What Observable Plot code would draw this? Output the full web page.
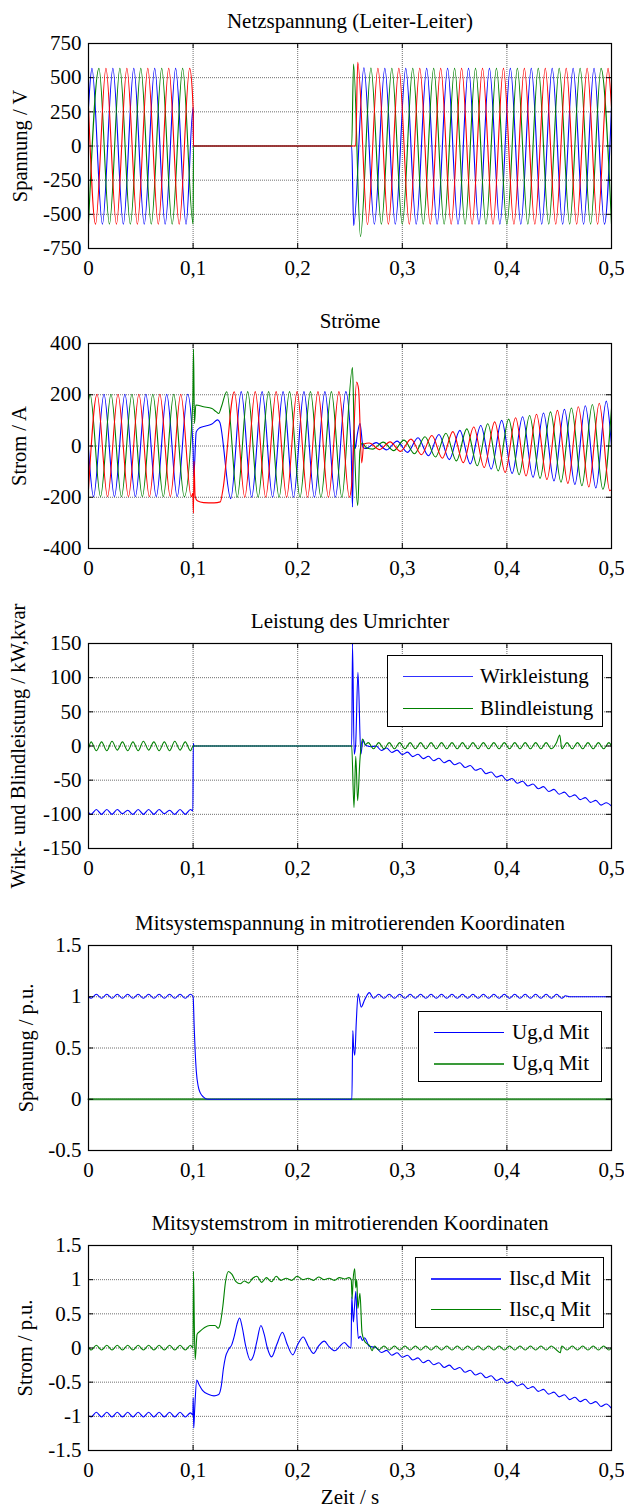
<!DOCTYPE html>
<html><head><meta charset="utf-8">
<script src="https://cdn.jsdelivr.net/npm/d3@7"></script>
<script src="https://cdn.jsdelivr.net/npm/@observablehq/plot@0.6"></script>
<style>
body{margin:0;background:#fff;font-family:"Liberation Serif","Times New Roman",serif;}
svg text{font-family:"Liberation Serif","Times New Roman",serif !important;font-variant:normal !important;}
.panel{position:relative;width:624px;}
.legend{position:absolute;border:1px solid #000;background:#fff;box-sizing:border-box;font-size:21px;color:#000;}
.legend .sw{position:absolute;height:0;}
.legend .lb{position:absolute;line-height:22px;white-space:nowrap;}
</style></head><body><div id="chart"></div><script>
// ---- time axis (ms) ----
const xTicks = [0, 100, 200, 300, 400, 500];

// ---- Panel 1: Netzspannung (Leiter-Leiter), [ms, V] extrema ----
const p1Blue = [[0,283],[3.3,568],[13.3,-572],[23.3,568],[33.3,-572],[43.3,568],[53.3,-572],[63.3,568],[73.3,-572],[83.3,568],[93.3,-572],[100,283],[100.4,0],[251.6,0],[253.5,-582],[263.3,572],[273.3,-572],[283.3,568],[293.3,-572],[303.3,568],[313.3,-572],[323.3,568],[333.3,-572],[343.3,568],[353.3,-572],[363.3,568],[373.3,-572],[383.3,568],[393.3,-572],[403.3,568],[413.3,-572],[423.3,568],[433.3,-572],[443.3,568],[453.3,-572],[463.3,568],[473.3,-572],[483.3,568],[493.3,-572],[500,283]];
const p1Green = [[0,-572],[10,568],[20,-572],[30,568],[40,-572],[50,568],[60,-572],[70,568],[80,-572],[90,568],[100,-572],[100.4,0],[251.6,0],[253.4,600],[260,-662],[270,570],[280,-572],[290,568],[300,-572],[310,568],[320,-572],[330,568],[340,-572],[350,568],[360,-572],[370,568],[380,-572],[390,568],[400,-572],[410,568],[420,-572],[430,568],[440,-572],[450,568],[460,-572],[470,568],[480,-572],[490,568],[500,-572]];
const p1Red = [[0,283],[6.7,-572],[16.7,568],[26.7,-572],[36.7,568],[46.7,-572],[56.7,568],[66.7,-572],[76.7,568],[86.7,-572],[96.7,568],[100,283],[100.4,0],[255.4,0],[257.4,612],[266.7,-574],[276.7,568],[286.7,-572],[296.7,568],[306.7,-572],[316.7,568],[326.7,-572],[336.7,568],[346.7,-572],[356.7,568],[366.7,-572],[376.7,568],[386.7,-572],[396.7,568],[406.7,-572],[416.7,568],[426.7,-572],[436.7,568],[446.7,-572],[456.7,568],[466.7,-572],[476.7,568],[486.7,-572],[496.7,568],[500,283]];

// ---- Panel 2: Ströme, [ms, A] ----
const p2Green = [[0,178],[1.5,202],[11.5,-198],[21.5,202],[31.5,-198],[41.5,202],[51.5,-198],[61.5,202],[71.5,-198],[81.5,202],[91.5,-198],[99.7,172],[100.4,378],[101.3,88],[102.6,160],[110,153],[118,146],[122,134],[124.5,127],[127,152],[132.2,212],[142.2,-200],[152.2,212],[162.2,-200],[172.2,212],[182.2,-200],[192.2,212],[202.2,-200],[212.2,212],[222.2,-200],[232.2,212],[242.2,-200],[252.4,306],[254,40],[257.4,-232],[259.5,-20],[261.7,12],[266,-8],[271.7,-12],[281.7,15],[291.7,-18],[301.7,23],[311.7,-30],[321.7,36],[331.7,-43],[341.7,50],[351.7,-58],[361.7,67],[371.7,-77],[381.7,87],[391.7,-97],[401.7,105],[411.7,-112],[421.7,119],[431.7,-126],[441.7,133],[451.7,-141],[461.7,148],[471.7,-155],[481.7,162],[491.7,-169],[500,146]];
const p2Red = [[0,-169],[8.2,202],[18.2,-198],[28.2,202],[38.2,-198],[48.2,202],[58.2,-198],[68.2,202],[78.2,-198],[88.2,202],[98.2,-198],[99.8,-185],[100.3,-262],[100.9,-60],[101.9,-196],[104,-214],[110,-221],[120,-222],[126,-218],[128.5,-170],[139.4,212],[149.4,-200],[159.4,212],[169.4,-200],[179.4,212],[189.4,-200],[199.4,212],[209.4,-200],[219.4,212],[229.4,-200],[239.4,212],[249.4,-200],[251.6,-150],[256.3,250],[258.2,222],[261.2,-66],[263.2,8],[268.3,12],[278.3,-14],[288.3,16],[298.3,-21],[308.3,27],[318.3,-34],[328.3,41],[338.3,-48],[348.3,56],[358.3,-65],[368.3,74],[378.3,-84],[388.3,94],[398.3,-103],[408.3,110],[418.3,-117],[428.3,124],[438.3,-131],[448.3,139],[458.3,-146],[468.3,153],[478.3,-160],[488.3,167],[498.3,-174],[500,-170]];
const p2Blue = [[0,-13],[4.8,-198],[14.8,202],[24.8,-198],[34.8,202],[44.8,-198],[54.8,202],[64.8,-198],[74.8,202],[84.8,-198],[94.8,202],[100,-12],[100.6,-120],[103,55],[106,70],[112,78],[118,86],[123.5,102],[125.5,93],[136,-206],[146,212],[156,-200],[166,212],[176,-200],[186,212],[196,-200],[206,212],[216,-200],[226,212],[236,-200],[246,212],[251,0],[252.4,-238],[253.6,62],[255,-10],[257,45],[259.6,88],[262.5,-5],[265,-10],[275,13],[285,-15],[295,19],[305,-25],[315,32],[325,-38],[335,45],[345,-53],[355,61],[365,-70],[375,80],[385,-90],[395,100],[405,-107],[415,114],[425,-122],[435,129],[445,-136],[455,143],[465,-150],[475,157],[485,-164],[495,175],[500,0]];

// ---- Panel 3: Leistung des Umrichter, [ms, kW / kvar] ----
const p3Wirk = [[0,-97],[2.5,-100],[7.5,-93],[12.5,-100],[17.5,-93],[22.5,-100],[27.5,-93],[32.5,-99],[37.5,-94],[42.5,-100],[47.5,-93],[52.5,-100],[57.5,-93],[62.5,-100],[67.5,-93],[72.5,-99],[77.5,-94],[82.5,-100],[87.5,-93],[92.5,-100],[97.5,-93],[99.8,-95],[100.2,4],[100.8,0],[251.6,0],[252.4,150],[254,-12],[255.4,2],[257.6,108],[260.4,-12],[262.4,9],[265,1],[270,-1],[275,0],[280,-6.5],[285,-3],[290,-9.5],[295,-6],[300,-12.5],[305,-9],[310,-15.5],[315,-12],[320,-18.5],[325,-15],[330,-21.5],[335,-18],[340,-24.5],[345,-21],[350,-27.5],[355,-24.5],[360,-31.5],[365,-28.5],[370,-35.5],[375,-33],[380,-40.5],[385,-38],[390,-45.5],[395,-43],[400,-50.5],[405,-47.5],[410,-54.5],[415,-51.5],[420,-58.5],[425,-55.5],[430,-62.5],[435,-59.5],[440,-66.5],[445,-63.5],[450,-70.5],[455,-67.5],[460,-74.5],[465,-71.5],[470,-78.5],[475,-75.5],[480,-82.5],[485,-79.5],[490,-86.5],[495,-83],[500,-88]];
const p3Blind = [[0,-4],[2.5,6],[7.5,-7],[12.5,6],[17.5,-7],[22.5,7],[27.5,-6],[32.5,6],[37.5,-7],[42.5,6],[47.5,-7],[52.5,7],[57.5,-6],[62.5,6],[67.5,-7],[72.5,6],[77.5,-7],[82.5,7],[87.5,-6],[92.5,6],[97.5,-7],[100,0],[251.6,0],[253.8,-90],[255.5,-15],[257.3,-80],[259.5,-20],[262,10],[264.5,2],[267.5,5],[272.5,-4],[277.5,5],[282.5,-4],[287.5,5],[292.5,-4],[297.5,5],[302.5,-4],[307.5,5],[312.5,-4],[317.5,5],[322.5,-4],[327.5,5],[332.5,-4],[337.5,5],[342.5,-4],[347.5,5],[352.5,-4],[357.5,5],[362.5,-4],[367.5,5],[372.5,-4],[377.5,5],[382.5,-4],[387.5,5],[392.5,-4],[397.5,5],[402.5,-4],[407.5,5],[412.5,-4],[417.5,5],[422.5,-4],[427.5,5],[432.5,-4],[437.5,5],[442.5,-4],[447.5,5],[450.5,16],[452.5,-4],[457.5,5],[462.5,-4],[467.5,5],[472.5,-4],[477.5,5],[482.5,-4],[487.5,5],[492.5,-4],[497.5,5],[500,0]];

// ---- Panel 4: Mitsystemspannung, [ms, p.u.] ----
const p4Ugd = [[0,1.0],[2.5,0.985],[7.5,1.025],[12.5,0.985],[17.5,1.025],[22.5,0.985],[27.5,1.025],[32.5,0.985],[37.5,1.025],[42.5,0.985],[47.5,1.025],[52.5,0.985],[57.5,1.025],[62.5,0.985],[67.5,1.025],[72.5,0.985],[77.5,1.025],[82.5,0.985],[87.5,1.025],[92.5,0.985],[97.5,1.025],[100,1.0],[101,0.72],[102,0.46],[103,0.28],[105,0.12],[107,0.06],[110,0.02],[114,0],[251.8,0],[252.7,0.67],[253.4,0.52],[254.6,0.43],[256,0.75],[257.8,1.03],[260.7,0.9],[264,0.97],[268.5,1.04],[272.5,0.985],[277.5,1.025],[282.5,0.985],[287.5,1.025],[292.5,0.985],[297.5,1.025],[302.5,0.985],[307.5,1.025],[312.5,0.985],[317.5,1.025],[322.5,0.985],[327.5,1.025],[332.5,0.985],[337.5,1.025],[342.5,0.985],[347.5,1.025],[352.5,0.985],[357.5,1.025],[362.5,0.985],[367.5,1.025],[372.5,0.985],[377.5,1.025],[382.5,0.985],[387.5,1.025],[392.5,0.985],[397.5,1.025],[402.5,0.985],[407.5,1.025],[412.5,0.985],[417.5,1.025],[422.5,0.985],[427.5,1.025],[432.5,0.985],[437.5,1.025],[442.5,0.985],[447.5,1.025],[452.5,0.985],[456,1.01],[460,1.0],[500,1.0]];
const p4Ugq = [[0,0],[500,0]];

// ---- Panel 5: Mitsystemstrom, [ms, p.u.] ----
const p5Ilq = [[0,0.02],[2.5,-0.03],[7.5,0.04],[12.5,-0.03],[17.5,0.04],[22.5,-0.03],[27.5,0.04],[32.5,-0.03],[37.5,0.04],[42.5,-0.03],[47.5,0.04],[52.5,-0.03],[57.5,0.04],[62.5,-0.03],[67.5,0.04],[72.5,-0.03],[77.5,0.04],[82.5,-0.03],[87.5,0.04],[92.5,-0.03],[97.5,0.04],[99.9,0],[100.4,1.12],[101.2,0.3],[102,-0.17],[103.8,0.2],[107,0.25],[111,0.3],[116,0.33],[121,0.33],[124,0.29],[126,0.36],[128.5,0.62],[131,0.97],[133.8,1.12],[137,1.08],[141,0.97],[145,0.94],[149,0.98],[153,0.95],[157,1.02],[161,1.05],[165.5,0.96],[170,1.03],[175,0.97],[179.5,1.05],[184,0.99],[189,1.02],[194,0.99],[199.5,1.05],[205,1.0],[210,1.02],[215,0.99],[220,1.04],[225,1.0],[230,1.02],[235,0.99],[240,1.03],[245,1.01],[249,1.03],[251.2,1.0],[252,0.72],[253,1.0],[254.5,1.16],[255.5,0.88],[256.5,1.0],[257.5,0.58],[259.5,0.8],[261.5,0.22],[264,0.1],[266.5,0.06],[269,0.03],[271,-0.04],[273.5,0.03],[277.5,-0.03],[282.5,0.03],[287.5,-0.03],[292.5,0.03],[297.5,-0.03],[302.5,0.03],[307.5,-0.03],[312.5,0.03],[317.5,-0.03],[322.5,0.03],[327.5,-0.03],[332.5,0.03],[337.5,-0.03],[342.5,0.03],[347.5,-0.03],[352.5,0.03],[357.5,-0.03],[362.5,0.03],[367.5,-0.03],[372.5,0.03],[377.5,-0.03],[382.5,0.03],[387.5,-0.03],[392.5,0.03],[397.5,-0.03],[402.5,0.03],[407.5,-0.03],[412.5,0.03],[417.5,-0.03],[422.5,0.03],[427.5,-0.03],[432.5,0.03],[437.5,-0.03],[442.5,0.03],[447.5,-0.03],[451,-0.07],[452.5,0.03],[457.5,-0.03],[462.5,0.03],[467.5,-0.03],[472.5,0.03],[477.5,-0.03],[482.5,0.03],[487.5,-0.03],[492.5,0.03],[497.5,-0.03],[500,0]];
const p5Ild = [[0,-0.99],[2.5,-1.01],[7.5,-0.94],[12.5,-1.01],[17.5,-0.94],[22.5,-1.01],[27.5,-0.94],[32.5,-1.01],[37.5,-0.94],[42.5,-1.01],[47.5,-0.94],[52.5,-1.01],[57.5,-0.94],[62.5,-1.01],[67.5,-0.94],[72.5,-1.01],[77.5,-0.94],[82.5,-1.01],[87.5,-0.94],[92.5,-1.01],[97.5,-0.95],[99.8,-0.98],[100.1,-0.73],[100.6,-1.17],[101.5,-0.9],[103.5,-0.47],[105.5,-0.53],[109,-0.62],[115,-0.68],[120,-0.7],[124.5,-0.68],[127,-0.55],[129,-0.3],[131,-0.13],[134,-0.02],[137,0.05],[139.5,0.18],[142,0.35],[144.5,0.44],[147,0.3],[150,0.05],[154.8,-0.18],[158,-0.1],[161,0.1],[164.8,0.33],[168,0.2],[171,0],[175,-0.13],[180,0.05],[185.4,0.23],[190,0.05],[195.3,-0.1],[200,0.05],[205.3,0.16],[210,0.03],[215.2,-0.08],[220,0.03],[225.5,0.1],[230,0.02],[235.5,-0.04],[240,0.02],[244.6,0.08],[248,0.03],[251,0.0],[251.7,0.75],[252.5,0.55],[253.3,0.38],[254.3,0.6],[255.6,0.83],[256.6,0.45],[258,0.14],[259.8,0.17],[262,0.11],[264,0.15],[266,0.1],[268,0.03],[270,0.02],[275,0.005],[280,-0.065],[285,-0.035],[290,-0.105],[295,-0.07],[300,-0.135],[305,-0.105],[310,-0.175],[315,-0.145],[320,-0.215],[325,-0.18],[330,-0.245],[335,-0.215],[340,-0.285],[345,-0.25],[350,-0.315],[355,-0.285],[360,-0.355],[365,-0.325],[370,-0.395],[375,-0.365],[380,-0.435],[385,-0.405],[390,-0.475],[395,-0.445],[400,-0.515],[405,-0.485],[410,-0.555],[415,-0.525],[420,-0.595],[425,-0.565],[430,-0.635],[435,-0.605],[440,-0.675],[445,-0.645],[450,-0.715],[455,-0.685],[460,-0.755],[465,-0.72],[470,-0.785],[475,-0.75],[480,-0.815],[485,-0.785],[490,-0.855],[495,-0.82],[500,-0.885]];

// ---- tick values ----
const p1Ticks = [-750,-500,-250,0,250,500,750];
const p2Ticks = [-400,-200,0,200,400];
const p3Ticks = [-150,-100,-50,0,50,100,150];
const p4Ticks = [-0.5,0,0.5,1,1.5];
const p5Ticks = [-1.5,-1,-0.5,0,0.5,1,1.5];

const BLUE = "#0000ff", GREEN = "#008000", RED = "#ff0000";
const FONT = "Liberation Serif";
const fmtX = d => d === 0 ? "0" : String(d / 1000).replace(".", ",");
const fmtY = d => String(d);
const rows = (pairs) => pairs.map(([t, v]) => ({t, v}));

function panel(cfg) {
  const {title, yLabel, yTicks, series, height = 300, marginTop = 43, marginBottom = 52, yLabelDx = -68, xLabel, legend} = cfg;
  const y0 = yTicks[0], y1 = yTicks[yTicks.length - 1];
  const ty = (y1 - y0) * 0.025;
  const T = {fontFamily: FONT, fontSize: 21, fill: "#000"};
  const marks = [
    Plot.gridX({ticks: xTicks, stroke: "#6f6f6f", strokeOpacity: 1, strokeDasharray: "1,1"}),
    Plot.gridY({ticks: yTicks, stroke: "#6f6f6f", strokeOpacity: 1, strokeDasharray: "1,1"}),
    ...series.map(s => Plot.line(rows(s.data), {x: "t", y: "v", stroke: s.color, strokeWidth: s.width || 1.1, curve: "monotone-x"})),
    Plot.ruleY(yTicks, {y: d => d, x1: 0, x2: 5, stroke: "#000"}),
    Plot.ruleY(yTicks, {y: d => d, x1: 495, x2: 500, stroke: "#000"}),
    Plot.ruleX(xTicks, {x: d => d, y1: y0, y2: y0 + ty, stroke: "#000"}),
    Plot.ruleX(xTicks, {x: d => d, y1: y1, y2: y1 - ty, stroke: "#000"}),
    Plot.frame({stroke: "#000", strokeWidth: 1.2}),
    // tick labels
    Plot.text(xTicks, {x: d => d, text: fmtX, frameAnchor: "bottom", dy: 20, lineAnchor: "middle", textAnchor: "middle", ...T}),
    Plot.text(yTicks, {y: d => d, text: fmtY, frameAnchor: "left", dx: -7, lineAnchor: "middle", textAnchor: "end", ...T}),
    Plot.text([title], {frameAnchor: "top", dy: -22, textAnchor: "middle", lineAnchor: "middle", ...T}),
    Plot.text([yLabel], {frameAnchor: "left", rotate: -90, dx: yLabelDx, textAnchor: "middle", lineAnchor: "middle", ...T, fontSize: 20.5})
  ];
  if (xLabel) marks.push(Plot.text([xLabel], {frameAnchor: "bottom", dy: 47, textAnchor: "middle", lineAnchor: "middle", ...T}));
  const svg = Plot.plot({
    width: 624, height, marginLeft: 88, marginRight: 13, marginTop, marginBottom,
    style: {fontFamily: FONT, fontSize: "21px", background: "#fff", overflow: "visible"},
    x: {domain: [0, 500], axis: null},
    y: {domain: [y0, y1], axis: null},
    marks
  });
  const div = document.createElement("div");
  div.className = "panel";
  div.style.height = height + "px";
  div.appendChild(svg);
  if (legend) {
    const lg = document.createElement("div");
    lg.className = "legend";
    Object.assign(lg.style, {left: legend.left + "px", top: legend.top + "px", width: legend.width + "px", height: legend.height + "px"});
    legend.items.forEach((it, i) => {
      const cy = legend.rowY[i];
      const sw = document.createElement("div");
      sw.className = "sw";
      Object.assign(sw.style, {left: legend.lineX0 + "px", width: legend.lineLen + "px", top: cy + "px", borderTop: (it.width || 1.5) + "px solid " + it.color});
      const lb = document.createElement("div");
      lb.className = "lb";
      lb.textContent = it.label;
      Object.assign(lb.style, {left: legend.textX + "px", top: (cy - 11) + "px"});
      lg.appendChild(sw); lg.appendChild(lb);
    });
    div.appendChild(lg);
  }
  return div;
}

const root = document.getElementById("chart");
root.appendChild(panel({
  title: "Netzspannung (Leiter-Leiter)", yLabel: "Spannung / V", yTicks: p1Ticks,
  series: [{data: p1Blue, color: BLUE}, {data: p1Green, color: GREEN}, {data: p1Red, color: RED}]
}));
root.appendChild(panel({
  title: "Ströme", yLabel: "Strom / A", yTicks: p2Ticks, yLabelDx: -69,
  series: [{data: p2Blue, color: BLUE}, {data: p2Green, color: GREEN}, {data: p2Red, color: RED}]
}));
root.appendChild(panel({
  title: "Leistung des Umrichter", yLabel: "Wirk- und Blindleistung / kW,kvar", yTicks: p3Ticks, yLabelDx: -70,
  series: [{data: p3Wirk, color: BLUE}, {data: p3Blind, color: GREEN}],
  legend: {left: 387, top: 55, width: 216, height: 72, lineX0: 15, lineLen: 70, textX: 92, rowY: [20, 52],
    items: [{label: "Wirkleistung", color: "#3030ff"}, {label: "Blindleistung", color: GREEN}]}
}));
root.appendChild(panel({
  title: "Mitsystemspannung in mitrotierenden Koordinaten", yLabel: "Spannung / p.u.", yTicks: p4Ticks,
  marginTop: 45, marginBottom: 50, yLabelDx: -62,
  series: [{data: p4Ugq, color: "#2e8b2e", width: 2}, {data: p4Ugd, color: BLUE}],
  legend: {left: 418, top: 111, width: 184, height: 71, lineX0: 15, lineLen: 70, textX: 93, rowY: [20, 51],
    items: [{label: "Ug,d Mit", color: BLUE}, {label: "Ug,q Mit", color: "#3a9a3a", width: 2}]}
}));
root.appendChild(panel({
  title: "Mitsystemstrom in mitrotierenden Koordinaten", yLabel: "Strom / p.u.", yTicks: p5Ticks,
  height: 308, marginTop: 45, marginBottom: 58, yLabelDx: -63, xLabel: "Zeit / s",
  series: [{data: p5Ild, color: BLUE}, {data: p5Ilq, color: GREEN}],
  legend: {left: 415, top: 57, width: 189, height: 71, lineX0: 15, lineLen: 70, textX: 93, rowY: [20, 51],
    items: [{label: "Ilsc,d Mit", color: "#3030ff", width: 2}, {label: "Ilsc,q Mit", color: GREEN}]}
}));
</script></body></html>
